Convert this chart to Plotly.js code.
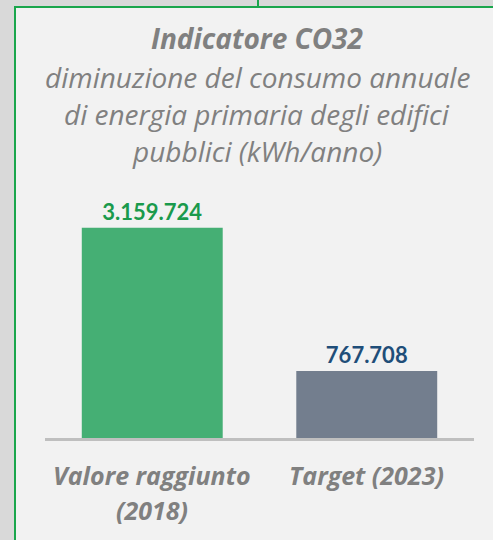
<!DOCTYPE html>
<html>
<head>
<meta charset="utf-8">
<script src="https://cdn.plot.ly/plotly-3.0.1.min.js"></script>
<style>
  html, body { margin: 0; padding: 0; background: #d9d9d9; }
  #chart { width: 493px; height: 540px; }
</style>
</head>
<body>
<div id="chart"></div>
<script>
// ---- data ----
var categories = ["Valore raggiunto (2018)", "Target (2023)"];
var categoryLines = [["Valore raggiunto", "(2018)"], ["Target (2023)"]];
var values = [3159724, 767708];
var titleLines = [
  "Indicatore CO32",
  "diminuzione del consumo annuale",
  "di energia primaria degli edifici",
  "pubblici (kWh/anno)"
];

// ---- style ----
var barColors = ["#45af74", "#737e8e"];
var labelColors = ["#1a9a4c", "#1f4e79"];
var grey = "#808080";
var fontFam = '"Open Sans", Lato, sans-serif';
var numFam = 'Lato, "Open Sans", sans-serif';
var axisBase = -350000;   // axis minimum where bars originate
var axisMax = 3790000;

var W = 493, H = 540;
var mL = 45, mR = 19, mT = 190, mB = 102;
var plotW = W - mL - mR, plotH = H - mT - mB;
function px2x(px) { return (px - mL) / plotW; }
function px2y(py) { return (H - mB - py) / plotH; }

function fmt(v) { return String(v).replace(/\B(?=(\d{3})+(?!\d))/g, "."); }

var trace = {
  type: "bar",
  x: categories,
  y: values.map(function (v) { return v - axisBase; }),
  base: axisBase,
  marker: { color: barColors, line: { width: 0 } },
  text: values.map(fmt),
  textposition: "outside",
  cliponaxis: false,
  textfont: { family: numFam, size: 22, color: labelColors, weight: "bold" },
  hoverinfo: "skip"
};

var annotations = [];
var titleY = [38, 77, 114, 151];
titleLines.forEach(function (t, i) {
  annotations.push({
    xref: "paper", yref: "paper", x: px2x(257), y: px2y(titleY[i]),
    xanchor: "center", yanchor: "middle", showarrow: false,
    text: i === 0 ? "<b><i>" + t + "</i></b>" : "<i>" + t + "</i>",
    font: { family: fontFam, size: 28, color: grey }
  });
});
var catLineY = [475, 510];
categoryLines.forEach(function (lines, ci) {
  lines.forEach(function (t, li) {
    annotations.push({
      xref: "x", yref: "paper", x: categories[ci], y: px2y(catLineY[li]),
      xanchor: "center", yanchor: "middle", showarrow: false,
      text: "<b><i>" + t + "</i></b>",
      font: { family: fontFam, size: 25, color: grey }
    });
  });
});

var shapes = [
  { type: "rect", xref: "paper", yref: "paper", layer: "below",
    x0: px2x(15), x1: px2x(W + 10), y0: px2y(H + 10), y1: px2y(7),
    fillcolor: "#f2f2f2", line: { color: "#1aa64c", width: 2 } },
  { type: "line", xref: "paper", yref: "paper", layer: "below",
    x0: px2x(258), x1: px2x(258), y0: px2y(7), y1: px2y(-2),
    line: { color: "#1aa64c", width: 2 } }
];

var layout = {
  width: W, height: H,
  margin: { l: mL, r: mR, t: mT, b: mB, pad: 0 },
  paper_bgcolor: "#d9d9d9",
  plot_bgcolor: "rgba(0,0,0,0)",
  showlegend: false,
  bargap: 0.343,
  font: { family: fontFam, color: grey },
  xaxis: {
    type: "category", showticklabels: false, ticks: "",
    showline: true, linecolor: "#bfbfbf", linewidth: 3,
    showgrid: false, zeroline: false, fixedrange: true
  },
  yaxis: {
    range: [axisBase, axisMax], visible: false,
    showgrid: false, zeroline: false, fixedrange: true
  },
  annotations: annotations,
  shapes: shapes
};

Plotly.newPlot("chart", [trace], layout, { displayModeBar: false, staticPlot: true });
</script>
</body>
</html>
